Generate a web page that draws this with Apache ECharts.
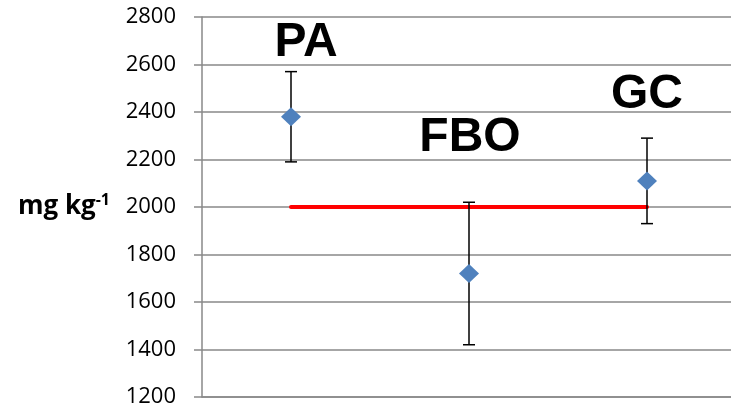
<!DOCTYPE html>
<html>
<head>
<meta charset="utf-8">
<script src="https://cdn.jsdelivr.net/npm/echarts@6/dist/echarts.min.js"></script>
<style>
html,body{margin:0;padding:0;background:#fff;}
#chart{width:731px;height:413px;}
</style>
</head>
<body>
<div id="chart"></div>
<script>
const categories = ['PA', 'FBO', 'GC'];
const means = [2380, 1720, 2110];
const errLow = [2190, 1420, 1930];
const errHigh = [2570, 2020, 2290];
const refLine = [2000, 2000, 2000];
const yMin = 1200, yMax = 2800, yStep = 200;

const labelOffsets = [[15, -74], [1, -136], [0, -86]];

const chart = echarts.init(document.getElementById('chart'), null, {renderer: 'canvas'});

const scatterData = means.map((v, i) => ({
  value: v,
  label: {offset: labelOffsets[i]}
}));
const errData = categories.map((c, i) => [i, errLow[i], errHigh[i]]);

chart.setOption({
  animation: false,
  backgroundColor: '#fff',
  grid: {left: 202, top: 17, width: 534, height: 380, outerBoundsMode: 'none', containLabel: false},
  xAxis: {
    type: 'category',
    data: categories,
    boundaryGap: true,
    axisLine: {show: true, lineStyle: {color: '#898989', width: 1.5}},
    axisTick: {show: false},
    axisLabel: {show: false},
    splitLine: {show: false}
  },
  yAxis: {
    type: 'value',
    min: yMin, max: yMax, interval: yStep,
    name: '{b|mg kg}{s|-1}',
    nameLocation: 'middle',
    nameRotate: 0,
    nameGap: 92,
    nameTextStyle: {
      rich: {
        b: {fontFamily: 'Open Sans', fontWeight: 'bold', fontSize: 26, color: '#000', lineHeight: 30},
        s: {fontFamily: 'Open Sans', fontWeight: 'bold', fontSize: 16, color: '#000', verticalAlign: 'top', lineHeight: 30, padding: [0,0,12,0]}
      }
    },
    axisLine: {show: true, lineStyle: {color: '#898989', width: 1.5}},
    axisTick: {show: true, inside: false, length: 8, lineStyle: {color: '#898989', width: 1.5}},
    axisLabel: {fontFamily: 'Open Sans', fontSize: 22, color: '#000', margin: 26,
      formatter: function (v) { return String(v); }},
    splitLine: {show: true, lineStyle: {color: '#898989', width: 1.5}}
  },
  series: [
    {
      type: 'line',
      data: refLine,
      symbol: 'none',
      lineStyle: {color: '#ff0000', width: 4, cap: 'round'},
      z: 2
    },
    {
      type: 'custom',
      data: errData,
      z: 3,
      renderItem: function (params, api) {
        const x = api.value(0);
        const lo = api.coord([x, api.value(1)]);
        const hi = api.coord([x, api.value(2)]);
        const hw = 6;
        const st = {stroke: '#000', lineWidth: 1.5};
        return {
          type: 'group',
          children: [
            {type: 'line', shape: {x1: lo[0], y1: lo[1], x2: hi[0], y2: hi[1]}, style: st},
            {type: 'line', shape: {x1: lo[0]-hw, y1: lo[1], x2: lo[0]+hw, y2: lo[1]}, style: st},
            {type: 'line', shape: {x1: hi[0]-hw, y1: hi[1], x2: hi[0]+hw, y2: hi[1]}, style: st}
          ]
        };
      }
    },
    {
      type: 'scatter',
      data: scatterData,
      symbol: 'diamond',
      symbolSize: [20, 19],
      itemStyle: {color: '#4f81bd', opacity: 1},
      z: 4,
      label: {
        show: true,
        position: 'inside',
        formatter: function (p) { return categories[p.dataIndex]; },
        fontFamily: 'Liberation Sans',
        fontWeight: 'bold',
        fontSize: 48,
        color: '#000',
        textBorderWidth: 0,
        opacity: 1
      }
    }
  ]
});
</script>
</body>
</html>
